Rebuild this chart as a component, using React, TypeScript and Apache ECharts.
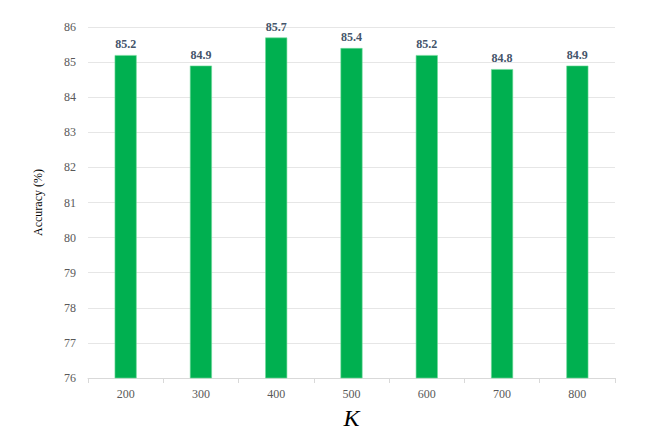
import React, { useEffect, useRef } from "react";
import * as echarts from "echarts";

const categories = ["200", "300", "400", "500", "600", "700", "800"];
const accuracy = [85.2, 84.9, 85.7, 85.4, 85.2, 84.8, 84.9];
const yMin = 76;
const yMax = 86;

const SERIF = "'Liberation Serif', 'Times New Roman', serif";

export default function App() {
  const ref = useRef<HTMLDivElement>(null);
  useEffect(() => {
    const chart = echarts.init(ref.current!, undefined, { renderer: "svg" });
    chart.setOption({
      animation: false,
      textStyle: { fontFamily: SERIF },
      grid: { left: 80, right: 42, top: 19, bottom: 53 },
      xAxis: {
        type: "category",
        data: categories,
        name: "K",
        nameLocation: "middle",
        nameGap: 28,
        nameTextStyle: { fontSize: 24, fontStyle: "italic", color: "#000", fontFamily: SERIF },
        axisLine: { lineStyle: { color: "#d9d9d9" } },
        axisTick: { show: true, lineStyle: { color: "#d9d9d9" } },
        axisLabel: { color: "#595959", fontSize: 12, margin: 10, fontFamily: SERIF },
      },
      yAxis: {
        type: "value",
        min: yMin,
        max: yMax,
        interval: 1,
        name: "Accuracy (%)",
        nameLocation: "middle",
        nameGap: 44,
        nameRotate: 90,
        nameTextStyle: { fontSize: 12, color: "#000", fontFamily: SERIF },
        axisLine: { show: false },
        axisTick: { show: false },
        axisLabel: { color: "#595959", fontSize: 12, margin: 12, fontFamily: SERIF },
        splitLine: { lineStyle: { color: "#e6e6e6" } },
      },
      series: [
        {
          type: "bar",
          data: accuracy,
          barWidth: 22,
          itemStyle: { color: "#00b050", borderColor: "#6fdc9a", borderWidth: 0.6 },
          label: {
            show: true,
            position: "top",
            distance: 5,
            color: "#44546a",
            fontWeight: "bold",
            fontSize: 12,
            fontFamily: SERIF,
          },
        },
      ],
    });
    return () => chart.dispose();
  }, []);
  return <div ref={ref} style={{ width: 649, height: 427 }} />;
}
